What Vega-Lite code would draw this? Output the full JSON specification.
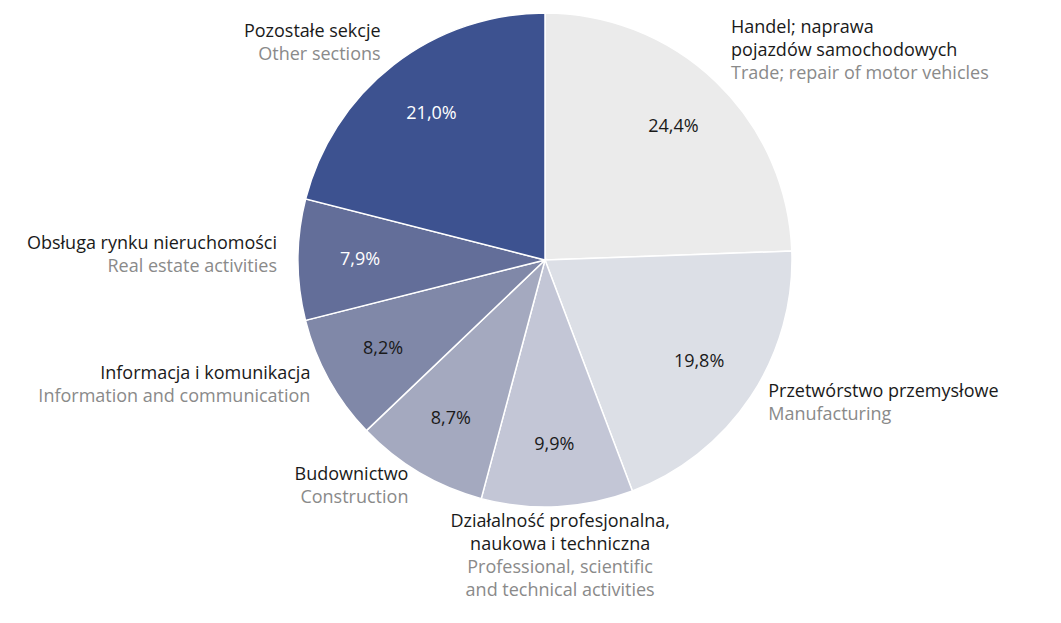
{
  "$schema": "https://vega.github.io/schema/vega-lite/v6.json",
  "width": 1030,
  "height": 520,
  "autosize": "none",
  "padding": {"left": 30, "top": 0, "right": 1, "bottom": 103},
  "background": "white",
  "config": {"view": {"stroke": null}, "font": "Open Sans"},
  "data": {
    "values": [
      {"order": 1, "category": "Trade", "value": 24.4, "pct": "24,4%", "side": "right", "pl": "Handel; naprawa\npojazdów samochodowych", "en": "Trade; repair of motor vehicles"},
      {"order": 2, "category": "Manufacturing", "value": 19.8, "pct": "19,8%", "side": "right", "pl": "Przetwórstwo przemysłowe", "en": "Manufacturing"},
      {"order": 3, "category": "Professional", "value": 9.9, "pct": "9,9%", "side": "bottom", "pl": "Działalność profesjonalna,\nnaukowa i techniczna", "en": "Professional, scientific\nand technical activities"},
      {"order": 4, "category": "Construction", "value": 8.7, "pct": "8,7%", "side": "left", "pl": "Budownictwo", "en": "Construction"},
      {"order": 5, "category": "Information", "value": 8.2, "pct": "8,2%", "side": "left", "pl": "Informacja i komunikacja", "en": "Information and communication"},
      {"order": 6, "category": "Real estate", "value": 7.9, "pct": "7,9%", "side": "left", "pl": "Obsługa rynku nieruchomości", "en": "Real estate activities"},
      {"order": 7, "category": "Other", "value": 21.0, "pct": "21,0%", "side": "left", "pl": "Pozostałe sekcje", "en": "Other sections"}
    ]
  },
  "encoding": {
    "theta": {"field": "value", "type": "quantitative", "stack": true},
    "order": {"field": "order", "type": "quantitative", "sort": "ascending"}
  },
  "layer": [
    {
      "mark": {"type": "arc", "radius": 247, "stroke": "white", "strokeWidth": 1.5},
      "encoding": {
        "color": {
          "field": "category", "type": "nominal", "legend": null,
          "scale": {
            "domain": ["Trade", "Manufacturing", "Professional", "Construction", "Information", "Real estate", "Other"],
            "range": ["#ebebeb", "#dcdfe6", "#c3c6d6", "#a4a9bf", "#8088a8", "#636e99", "#3d5290"]
          }
        }
      }
    },
    {
      "mark": {"type": "text", "radius": 185, "fontSize": 18, "baseline": "middle", "align": "center"},
      "encoding": {
        "text": {"field": "pct"},
        "color": {"condition": {"test": "datum.order >= 6", "value": "#ffffff"}, "value": "#1a1a1a"}
      }
    },
    {
      "mark": {
        "type": "text", "fontSize": 18, "letterSpacing": 0.4, "lineBreak": "\n", "lineHeight": 23, "color": "#1a1a1a", "baseline": "alphabetic",
        "radius": {"expr": "datum.side === 'bottom' ? 301 : 268"},
        "align": {"expr": "datum.side === 'left' ? 'right' : (datum.side === 'right' ? 'left' : 'center')"},
        "dy": {"expr": "-11 - 23 * (length(split(datum.pl, '\\n')) - 1)"}
      },
      "encoding": {"text": {"field": "pl"}}
    },
    {
      "mark": {
        "type": "text", "fontSize": 18, "letterSpacing": 0.4, "lineBreak": "\n", "lineHeight": 23, "color": "#8a8a8a", "baseline": "alphabetic", "dy": 12,
        "radius": {"expr": "datum.side === 'bottom' ? 301 : 268"},
        "align": {"expr": "datum.side === 'left' ? 'right' : (datum.side === 'right' ? 'left' : 'center')"}
      },
      "encoding": {"text": {"field": "en"}}
    }
  ]
}
